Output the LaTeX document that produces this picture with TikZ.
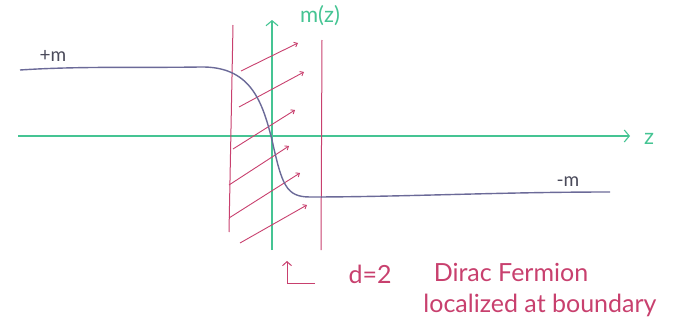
\documentclass[tikz,border=0pt]{standalone}
\usepackage{fontspec}
\setmainfont{Lato}
\usetikzlibrary{arrows.meta}
\definecolor{axisgreen}{HTML}{45C493}
\definecolor{hatchred}{HTML}{C8406E}
\definecolor{curveblue}{HTML}{6B6A98}
\definecolor{labgray}{HTML}{4A4A5A}
\tikzset{
  axis/.style={axisgreen, line width=1.1pt},
  wall/.style={hatchred, line width=1pt},
  hatch/.style={hatchred, line width=0.9pt},
  profile/.style={curveblue, line width=1.4pt},
  redtext/.style={hatchred, font=\fontsize{25}{27}\selectfont, inner sep=0pt},
  graytext/.style={labgray, font=\fontsize{19}{21}\selectfont, inner sep=0pt},
  greentext/.style={axisgreen, font=\fontsize{22}{24}\selectfont, inner sep=0pt},
}
\begin{document}
\begin{tikzpicture}[x=1pt,y=-1pt]
\useasboundingbox (0,0) rectangle (673,324);
% axes
\coordinate (zl) at (18,136);
\coordinate (zr) at (630,136);
\coordinate (mb) at (272,250);
\coordinate (mt) at (272,20);
\draw[axis, -{Straight Barb[length=5pt,width=12pt]}] (zl) -- (zr);
\draw[axis, -{Straight Barb[length=5pt,width=12pt]}] (mb) -- (mt);
\node[greentext] (zlab) at (649,139) {z};
\node[greentext] (mlab) at (320,16) {m(z)};
% walls
\coordinate (w1b) at (229,232);
\coordinate (w1t) at (233,25);
\coordinate (w2b) at (321,250);
\coordinate (w2t) at (322,40);
\draw[wall] (w1b) -- (w1t);
\draw[wall] (w2b) -- (w2t);
% hatch lines
\foreach \a/\b/\c/\d in {241/71/298/43, 239/107/304/72, 233/149/295/110, 229/185/289/146, 229/218/300/173, 240/243/307/205}{
  \draw[hatch, -{Straight Barb[length=3pt,width=5pt]}] (\a,\b) -- (\c,\d);
}
% profile curve
\coordinate (p0) at (20,70);
\coordinate (p1) at (200,67);
\coordinate (p2) at (272,140);
\coordinate (p3) at (310,197);
\coordinate (p4) at (610,192);
\draw[profile] (p0) .. controls (80,66) and (140,68) .. (p1)
  .. controls (250,66) and (262,100) .. (p2)
  .. controls (282,185) and (286,197) .. (p3)
  .. controls (400,197) and (500,192) .. (p4);
\node[graytext] (pm) at (53,56) {+m};
\node[graytext] (mm) at (568,182) {-m};
% annotation
\coordinate (ab) at (287,283);
\coordinate (ae) at (315,283);
\coordinate (at) at (287,261);
\draw[wall, -{Straight Barb[length=4pt,width=9pt]}] (ae) -- (ab) -- (at);
\node[redtext] (d2) at (370,274) {d=2};
\node[redtext] (dirac) at (511,272) {Dirac Fermion};
\node[redtext] (loc) at (540,305) {localized at boundary};
\end{tikzpicture}
\end{document}
